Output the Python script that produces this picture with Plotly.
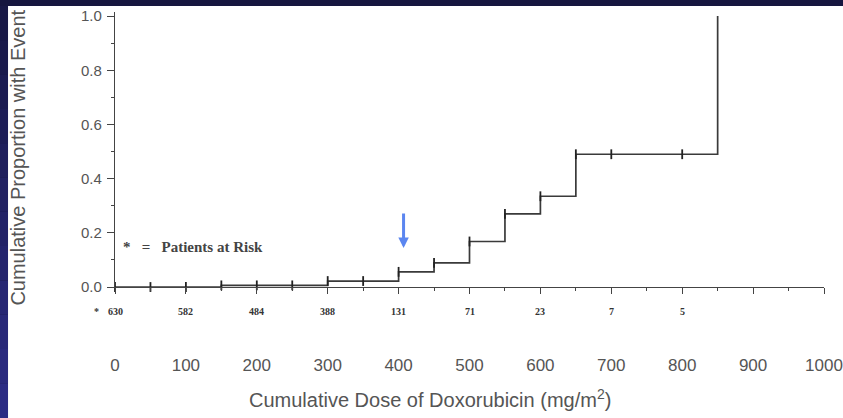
import plotly.graph_objects as go

# ---- data ----
step_dose = [0, 150, 300, 400, 450, 500, 550, 600, 650, 850]
step_prop = [0.0, 0.006, 0.022, 0.056, 0.089, 0.168, 0.27, 0.335, 0.49, 1.0]

censor_dose = [0, 50, 100, 150, 200, 250, 300, 350, 400, 450, 500, 550, 600, 650, 700, 800]
censor_prop = [0.0, 0.0, 0.0, 0.006, 0.006, 0.006, 0.022, 0.022, 0.056, 0.089, 0.168, 0.27, 0.335, 0.49, 0.49, 0.49]

risk_dose = [0, 100, 200, 300, 400, 500, 600, 700, 800]
risk_labels = ["630", "582", "484", "388", "131", "71", "23", "7", "5"]

x_ticks = [0, 100, 200, 300, 400, 500, 600, 700, 800, 900, 1000]
y_ticks = [0.0, 0.2, 0.4, 0.6, 0.8, 1.0]
y_tick_text = ["0.0", "0.2", "0.4", "0.6", "0.8", "1.0"]

arrow_dose = 407
arrow_tip = 0.144
risk_row_paper_y = -0.0909

fig = go.Figure()

fig.add_trace(go.Scatter(
    x=step_dose, y=step_prop, mode="lines", line=dict(shape="hv", color="#3a3a3a", width=1.7),
    showlegend=False, hoverinfo="skip", cliponaxis=False))

fig.add_trace(go.Scatter(
    x=censor_dose, y=censor_prop, mode="markers",
    marker=dict(symbol="line-ns", size=7, line=dict(color="#222", width=1.8)),
    showlegend=False, hoverinfo="skip", cliponaxis=False))

risk_font = dict(family="Liberation Serif", size=10, color="#333")
for d, lab in zip(risk_dose, risk_labels):
    fig.add_annotation(x=d, y=risk_row_paper_y, xref="x", yref="paper", text=f"<b>{lab}</b>", showarrow=False,
                       xanchor="center", yanchor="middle", font=risk_font)
fig.add_annotation(x=-0.026, y=risk_row_paper_y, xref="paper", yref="paper", text="<b>*</b>", showarrow=False,
                   xanchor="center", yanchor="middle", font=risk_font)

label_font = dict(family="Liberation Sans Narrow, Liberation Sans, Arial", size=17, color="#555")

fig.update_xaxes(
    range=[0, 1000], tickvals=x_ticks, ticktext=[str(v) for v in x_ticks],
    ticks="outside", ticklen=6, tickwidth=1.2, tickcolor="#444",
    minor=dict(dtick=50, ticks="outside", ticklen=3, tickcolor="#444", tickwidth=1),
    showline=True, linecolor="#444", linewidth=1.4, showgrid=False, zeroline=False,
    tickfont=label_font, ticklabelstandoff=56, automargin=False)

fig.add_annotation(x=0.444, y=-0.407, xref="paper", yref="paper",
                   text="Cumulative Dose of Doxorubicin (mg/m<sup>2</sup>)", showarrow=False,
                   xanchor="center", yanchor="middle",
                   font=dict(family="Liberation Sans, Arial", size=20, color="#555"))

fig.add_annotation(x=-0.137, y=0.47, xref="paper", yref="paper",
                   text="Cumulative Proportion with Event", showarrow=False, textangle=-90,
                   xanchor="center", yanchor="middle",
                   font=dict(family="Liberation Sans, Arial", size=20, color="#555"))

fig.update_yaxes(
    range=[0, 1.015], tickvals=y_ticks, ticktext=y_tick_text,
    ticks="outside", ticklen=7, tickwidth=1.2, tickcolor="#444",
    minor=dict(dtick=0.1, ticks="outside", ticklen=3, tickcolor="#444", tickwidth=1),
    showline=True, linecolor="#444", linewidth=1.4, showgrid=False, zeroline=False,
    tickfont=dict(family="Liberation Sans, Arial", size=15, color="#555"), ticklabelstandoff=2,
    automargin=False)

fig.add_annotation(x=8, y=0.148, xref="x", yref="y",
                   text="<b>*&nbsp;&nbsp;&nbsp;=&nbsp;&nbsp;&nbsp;Patients at Risk</b>", showarrow=False,
                   xanchor="left", yanchor="middle",
                   font=dict(family="Liberation Serif", size=15, color="#444"))

fig.add_annotation(x=arrow_dose, y=arrow_tip, xref="x", yref="y", ax=0, ay=-36, text="",
                   showarrow=True, arrowhead=2, arrowsize=0.7, arrowwidth=3, arrowcolor="#5b86f0")

# white page area drawn over a navy paper; left band as a gradient
shapes = [dict(type="rect", xref="paper", yref="paper", x0=-0.1509, x1=1.2, y0=-0.6, y1=1.0218,
               fillcolor="white", line=dict(width=0), layer="below")]
n = 12
y_top = 1.0218
for i in range(n):
    t = i / (n - 1)
    r = int(0x18 + t * (0x2c - 0x18)); g = int(0x18 + t * (0x2c - 0x18)); b = int(0x46 + t * (0x84 - 0x46))
    y1 = y_top - (y_top + 0.475) * i / n
    y0 = y_top - (y_top + 0.475) * (i + 1) / n
    if i == n - 1:
        y0 = -0.6
    shapes.append(dict(type="rect", xref="paper", yref="paper", x0=-0.3, x1=-0.1509, y0=y0, y1=y1,
                       fillcolor=f"rgb({r},{g},{b})", line=dict(width=0), layer="below"))
fig.update_layout(shapes=shapes)

fig.update_layout(
    width=843, height=418, margin=dict(l=115, r=19, t=12, b=131, autoexpand=False),
    paper_bgcolor="#16163f", plot_bgcolor="white", showlegend=False)

fig.write_html("out.html", config={"displayModeBar": False},
               post_script="document.body.style.margin='0px';document.body.style.overflow='hidden';")
